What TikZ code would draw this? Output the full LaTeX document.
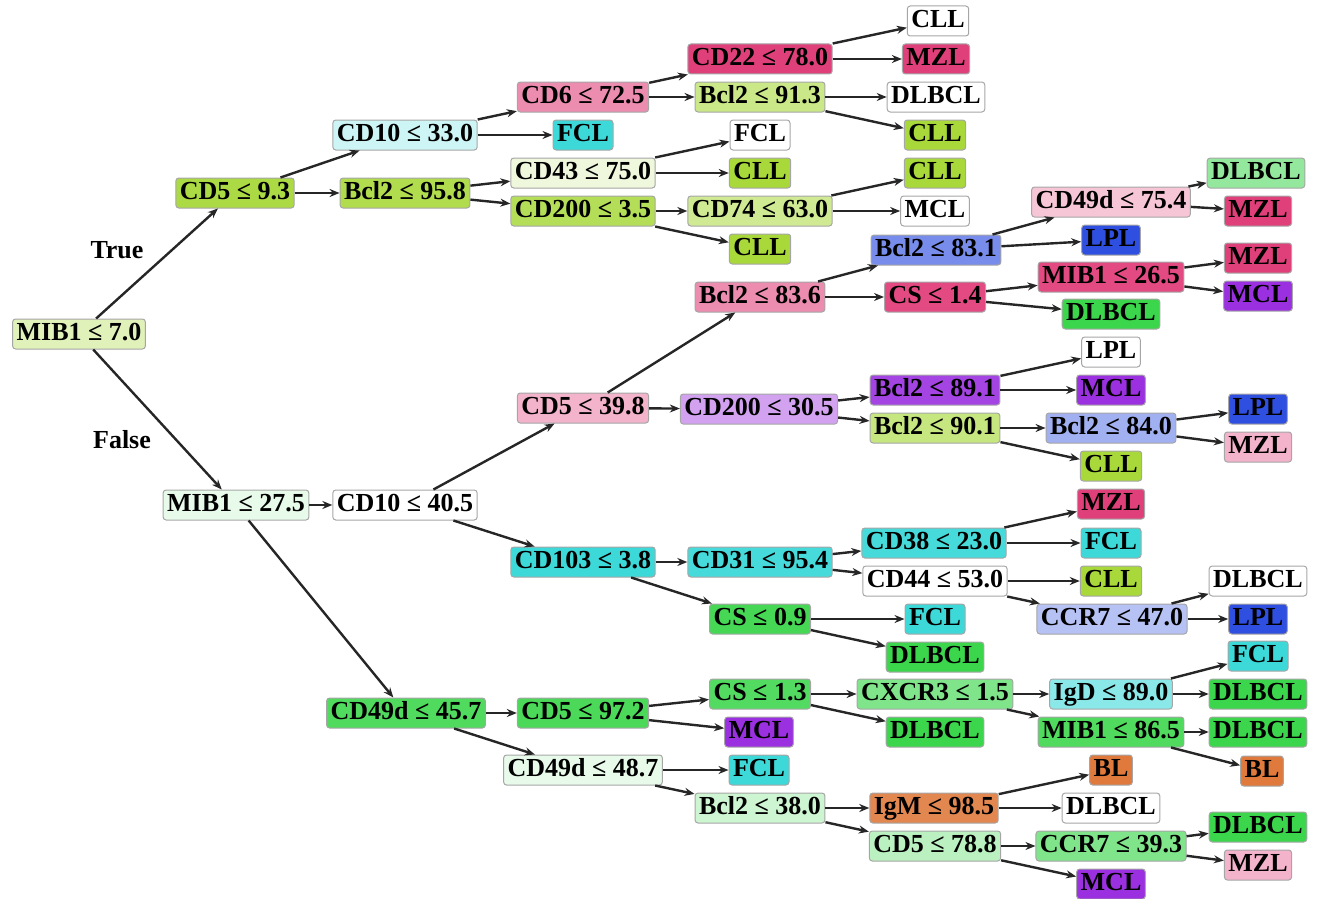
\documentclass[tikz,border=0pt]{standalone}
\usepackage{fontspec}
\setmainfont{Liberation Serif}
\usepackage{tikz}
\usetikzlibrary{arrows.meta}
\usepackage{xcolor}

% ==================== 类别颜色 ====================
\definecolor{cllC}{HTML}{A8D83A}
\definecolor{mzlC}{HTML}{E0407A}
\definecolor{fclC}{HTML}{3DD8D8}
\definecolor{dlbC}{HTML}{3CD64C}
\definecolor{mclC}{HTML}{9A30E0}
\definecolor{lplC}{HTML}{2F4FE0}
\definecolor{blC}{HTML}{E07A3C}

\begin{document}
\begin{tikzpicture}[
    x=1pt, y=-1pt,
    % 圆角方块样式
    block/.style={rectangle, draw=black!35, line width=1pt, rounded corners=3pt,
        font=\bfseries\fontsize{26}{26}\selectfont, inner xsep=4pt, inner ysep=3.5pt,
        text height=18pt, text depth=5pt},
    cll/.style={block, fill=cllC},
    mzl/.style={block, fill=mzlC},
    fcl/.style={block, fill=fclC},
    dlb/.style={block, fill=dlbC},
    mcl/.style={block, fill=mclC},
    lpl/.style={block, fill=lplC},
    bl/.style={block, fill=blC},
    wht/.style={block, fill=white},
    lbl/.style={font=\bfseries\fontsize{26}{26}\selectfont},
    % 连线样式
    arr/.style={-{Stealth[length=10pt, width=8pt]}, line width=2.4pt, color=black!85},
]
\useasboundingbox (0,0) rectangle (1325,899);

% ==================== 1. 列坐标 ====================
\def\xA{79}
\def\xB{235}
\def\xC{405}
\def\xD{583}
\def\xE{760}
\def\xF{935}
\def\xG{1111}
\def\xH{1258}

% ==================== 2. 根与第一层 ====================
\node[block, fill=cllC!35] (root)   at (\xA, 334) {MIB1 ≤ 7.0};
\node[block, fill=cllC!95] (cd5a)   at (\xB, 193) {CD5 ≤ 9.3};
\node[block, fill=dlbC!12] (mib275) at (\xB+1, 505) {MIB1 ≤ 27.5};
\node[lbl] (lblT) at (117, 250) {True};
\node[lbl] (lblF) at (122, 440) {False};

\draw[arr] (root) -- (cd5a);
\draw[arr] (root) -- (mib275);

% ==================== 3. 上半部分 (True) ====================
\node[block, fill=fclC!25]  (cd10a)  at (\xC, 135) {CD10 ≤ 33.0};
\node[block, fill=cllC!90]  (bcl958) at (\xC, 193) {Bcl2 ≤ 95.8};
\node[fcl]                  (fcl1)   at (\xD, 135) {FCL};
\node[block, fill=mzlC!60]  (cd6)    at (\xD, 97)  {CD6 ≤ 72.5};
\node[block, fill=cllC!18]  (cd43)   at (\xD, 173) {CD43 ≤ 75.0};
\node[block, fill=cllC!85]  (cd200a) at (\xD, 211) {CD200 ≤ 3.5};
\node[mzl]                  (cd22)   at (\xE, 59)  {CD22 ≤ 78.0};
\node[block, fill=cllC!60]  (bcl913) at (\xE, 97)  {Bcl2 ≤ 91.3};
\node[wht]                  (fcl2)   at (\xE, 135) {FCL};
\node[cll]                  (cll3)   at (\xE, 173) {CLL};
\node[block, fill=cllC!55]  (cd74)   at (\xE, 211) {CD74 ≤ 63.0};
\node[cll]                  (cll4)   at (\xE, 249) {CLL};
\node[wht]                  (cll1)   at (\xF+3, 21) {CLL};
\node[mzl]                  (mzl1)   at (\xF+1, 59) {MZL};
\node[wht]                  (dlbcl1) at (\xF+1, 97) {DLBCL};
\node[cll]                  (cll2)   at (\xF, 135) {CLL};
\node[cll]                  (cll5)   at (\xF, 173) {CLL};
\node[wht]                  (mcl1)   at (\xF, 211) {MCL};

\draw[arr] (cd5a) -- (cd10a);
\draw[arr] (cd5a) -- (bcl958);
\draw[arr] (cd10a) -- (cd6);
\draw[arr] (cd10a) -- (fcl1);
\draw[arr] (cd6) -- (cd22);
\draw[arr] (cd6) -- (bcl913);
\draw[arr] (cd22) -- (cll1);
\draw[arr] (cd22) -- (mzl1);
\draw[arr] (bcl913) -- (dlbcl1);
\draw[arr] (bcl913) -- (cll2);
\draw[arr] (bcl958) -- (cd43);
\draw[arr] (bcl958) -- (cd200a);
\draw[arr] (cd43) -- (fcl2);
\draw[arr] (cd43) -- (cll3);
\draw[arr] (cd200a) -- (cd74);
\draw[arr] (cd200a) -- (cll4);
\draw[arr] (cd74) -- (cll5);
\draw[arr] (cd74) -- (mcl1);

% ==================== 4. CD10 ≤ 40.5 分支 ====================
\node[wht]                  (cd10b)  at (\xC, 505) {CD10 ≤ 40.5};
\node[block, fill=mzlC!40]  (cd5b)   at (\xD, 408) {CD5 ≤ 39.8};
\node[block, fill=mzlC!60]  (bcl836) at (\xE, 297) {Bcl2 ≤ 83.6};
\node[block, fill=mclC!45]  (cd200b) at (\xE-1, 409) {CD200 ≤ 30.5};
\node[block, fill=lplC!65]  (bcl831) at (\xF+1, 250) {Bcl2 ≤ 83.1};
\node[block, fill=mzlC!95]  (cs14)   at (\xF, 297) {CS ≤ 1.4};
\node[block, fill=mzlC!30]  (cd49c)  at (\xG, 202) {CD49d ≤ 75.4};
\node[lpl]                  (lpl1)   at (\xG, 240) {LPL};
\node[block, fill=mzlC!95]  (mib265) at (\xG, 277) {MIB1 ≤ 26.5};
\node[dlb]                  (dlbcl3) at (\xG, 314) {DLBCL};
\node[block, fill=dlbC!55]  (dlbcl2) at (\xH-2, 173) {DLBCL};
\node[mzl]                  (mzl2)   at (\xH, 211) {MZL};
\node[mzl]                  (mzl3)   at (\xH, 258) {MZL};
\node[mcl]                  (mcl2)   at (\xH, 296) {MCL};

\node[block, fill=mclC!90]  (bcl891) at (\xF, 390) {Bcl2 ≤ 89.1};
\node[block, fill=cllC!65]  (bcl901) at (\xF, 428) {Bcl2 ≤ 90.1};
\node[wht]                  (lpl2)   at (\xG, 352) {LPL};
\node[mcl]                  (mcl3)   at (\xG, 390) {MCL};
\node[block, fill=lplC!45]  (bcl840) at (\xG, 428) {Bcl2 ≤ 84.0};
\node[cll]                  (cll6)   at (\xG, 466) {CLL};
\node[lpl]                  (lpl3)   at (\xH, 409) {LPL};
\node[block, fill=mzlC!40]  (mzl4)   at (\xH, 447) {MZL};

\draw[arr] (mib275) -- (cd10b);
\draw[arr] (cd10b) -- (cd5b);
\draw[arr] (cd5b) -- (bcl836);
\draw[arr] (cd5b) -- (cd200b);
\draw[arr] (bcl836) -- (bcl831);
\draw[arr] (bcl836) -- (cs14);
\draw[arr] (bcl831) -- (cd49c);
\draw[arr] (bcl831) -- (lpl1);
\draw[arr] (cd49c) -- (dlbcl2);
\draw[arr] (cd49c) -- (mzl2);
\draw[arr] (cs14) -- (mib265);
\draw[arr] (cs14) -- (dlbcl3);
\draw[arr] (mib265) -- (mzl3);
\draw[arr] (mib265) -- (mcl2);
\draw[arr] (cd200b) -- (bcl891);
\draw[arr] (cd200b) -- (bcl901);
\draw[arr] (bcl891) -- (lpl2);
\draw[arr] (bcl891) -- (mcl3);
\draw[arr] (bcl901) -- (bcl840);
\draw[arr] (bcl901) -- (cll6);
\draw[arr] (bcl840) -- (lpl3);
\draw[arr] (bcl840) -- (mzl4);

% ==================== 5. CD103 ≤ 3.8 分支 ====================
\node[fcl]                  (cd103)  at (\xD, 562) {CD103 ≤ 3.8};
\node[block, fill=fclC!95]  (cd31)   at (\xE, 562) {CD31 ≤ 95.4};
\node[block, fill=dlbC!95]  (cs09)   at (\xE, 619) {CS ≤ 0.9};
\node[block, fill=fclC!95]  (cd38)   at (\xF-1, 543) {CD38 ≤ 23.0};
\node[wht]                  (cd44)   at (\xF, 581) {CD44 ≤ 53.0};
\node[fcl]                  (fcl4)   at (\xF, 619) {FCL};
\node[dlb]                  (dlbcl5) at (\xF, 657) {DLBCL};
\node[mzl]                  (mzl5)   at (\xG, 504) {MZL};
\node[fcl]                  (fcl3)   at (\xG, 543) {FCL};
\node[cll]                  (cll7)   at (\xG, 581) {CLL};
\node[block, fill=lplC!35]  (ccr470) at (\xG+1, 619) {CCR7 ≤ 47.0};
\node[wht]                  (dlbcl4) at (\xH, 581) {DLBCL};
\node[lpl]                  (lpl4)   at (\xH, 619) {LPL};

\draw[arr] (cd10b) -- (cd103);
\draw[arr] (cd103) -- (cd31);
\draw[arr] (cd103) -- (cs09);
\draw[arr] (cd31) -- (cd38);
\draw[arr] (cd31) -- (cd44);
\draw[arr] (cd38) -- (mzl5);
\draw[arr] (cd38) -- (fcl3);
\draw[arr] (cd44) -- (cll7);
\draw[arr] (cd44) -- (ccr470);
\draw[arr] (ccr470) -- (dlbcl4);
\draw[arr] (ccr470) -- (lpl4);
\draw[arr] (cs09) -- (fcl4);
\draw[arr] (cs09) -- (dlbcl5);

% ==================== 6. CD49d ≤ 45.7 分支 ====================
\node[block, fill=dlbC!90]  (cd49a)  at (\xC+1, 713) {CD49d ≤ 45.7};
\node[block, fill=dlbC!92]  (cd5c)   at (\xD, 713) {CD5 ≤ 97.2};
\node[block, fill=dlbC!12]  (cd49b)  at (\xD, 770) {CD49d ≤ 48.7};
\node[block, fill=dlbC!88]  (cs13)   at (\xE, 694) {CS ≤ 1.3};
\node[mcl]                  (mcl4)   at (\xE-1, 732) {MCL};
\node[fcl]                  (fcl6)   at (\xE-1, 770) {FCL};
\node[block, fill=dlbC!25]  (bcl380) at (\xE, 808) {Bcl2 ≤ 38.0};
\node[block, fill=dlbC!65]  (cxcr3)  at (\xF, 694) {CXCR3 ≤ 1.5};
\node[dlb]                  (dlbcl6) at (\xF, 732) {DLBCL};
\node[block, fill=blC!90]   (igm)    at (\xF-1, 808) {IgM ≤ 98.5};
\node[block, fill=dlbC!35]  (cd5d)   at (\xF, 846) {CD5 ≤ 78.8};
\node[block, fill=fclC!60]  (igd)    at (\xG, 694) {IgD ≤ 89.0};
\node[block, fill=dlbC!90]  (mib865) at (\xG, 732) {MIB1 ≤ 86.5};
\node[bl]                   (bl2)    at (\xG, 770) {BL};
\node[wht]                  (dlbcl9) at (\xG, 808) {DLBCL};
\node[block, fill=dlbC!65]  (ccr393) at (\xG, 846) {CCR7 ≤ 39.3};
\node[mcl]                  (mcl5)   at (\xG, 884) {MCL};
\node[fcl]                  (fcl5)   at (\xH, 656) {FCL};
\node[dlb]                  (dlbcl7) at (\xH, 694) {DLBCL};
\node[dlb]                  (dlbcl8) at (\xH, 732) {DLBCL};
\node[bl]                   (bl1)    at (\xH+4, 771) {BL};
\node[dlb]                  (dlbcl10) at (\xH, 827) {DLBCL};
\node[block, fill=mzlC!40]  (mzl6)   at (\xH, 865) {MZL};

\draw[arr] (mib275) -- (cd49a);
\draw[arr] (cd49a) -- (cd5c);
\draw[arr] (cd49a) -- (cd49b);
\draw[arr] (cd5c) -- (cs13);
\draw[arr] (cd5c) -- (mcl4);
\draw[arr] (cs13) -- (cxcr3);
\draw[arr] (cs13) -- (dlbcl6);
\draw[arr] (cxcr3) -- (igd);
\draw[arr] (cxcr3) -- (mib865);
\draw[arr] (igd) -- (fcl5);
\draw[arr] (igd) -- (dlbcl7);
\draw[arr] (mib865) -- (dlbcl8);
\draw[arr] (mib865) -- (bl1);
\draw[arr] (cd49b) -- (fcl6);
\draw[arr] (cd49b) -- (bcl380);
\draw[arr] (bcl380) -- (igm);
\draw[arr] (bcl380) -- (cd5d);
\draw[arr] (igm) -- (bl2);
\draw[arr] (igm) -- (dlbcl9);
\draw[arr] (cd5d) -- (ccr393);
\draw[arr] (cd5d) -- (mcl5);
\draw[arr] (ccr393) -- (dlbcl10);
\draw[arr] (ccr393) -- (mzl6);

\end{tikzpicture}
\end{document}
